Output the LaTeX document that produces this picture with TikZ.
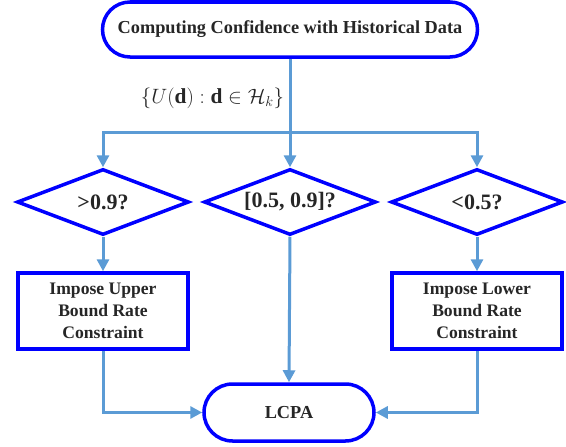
\documentclass[tikz,border=0pt]{standalone}
\usepackage{fontspec}
\setmainfont{Liberation Serif}
\usetikzlibrary{arrows.meta, shapes.geometric, shapes.misc}

\definecolor{edgeblue}{RGB}{0,0,255}
\definecolor{flowblue}{RGB}{91,155,213}

\begin{document}
\begin{tikzpicture}[x=1pt, y=-1pt,
    every node/.style={text=black!85},
    terminal/.style={rounded rectangle, draw=edgeblue, line width=3.5pt, inner sep=0pt,
        font=\fontsize{18.3}{21}\bfseries},
    decision/.style={diamond, aspect=2.6, draw=edgeblue, line width=3.5pt, inner sep=0pt,
        minimum width=172, minimum height=66, font=\fontsize{22}{24}\bfseries},
    process/.style={rectangle, draw=edgeblue, line width=3.5pt, align=center, inner sep=0pt,
        minimum width=170, minimum height=76, font=\fontsize{17.6}{22}\bfseries},
    flow/.style={draw=flowblue, line width=3pt, -{Triangle[width=12pt,length=12pt]}}]
\useasboundingbox (0,0) rectangle (566,447);

% nodes
\node[terminal, minimum width=375, minimum height=55] (start) at (290,29.5) {Computing Confidence with Historical Data};
\node[decision] (high) at (103,202) {>0.9?};
\node[decision] (mid) at (290,202) {[0.5, 0.9]?};
\node[decision] (low) at (477,202) {<0.5?};
\node[process] (upper) at (103,311) {Impose Upper\\Bound Rate\\Constraint};
\node[process] (lower) at (477,311) {Impose Lower\\Bound Rate\\Constraint};
\node[terminal, minimum width=170, minimum height=57] (lcpa) at (289,412.5) {LCPA};
\node[font=\fontsize{21.4}{24}\selectfont] (set) at (212.5,98) {$\{U(\mathbf{d}):\mathbf{d}\in\mathcal{H}_k\}$};

\coordinate (split) at (290,132);

% connectors
\draw[flow] (start.south) -- (mid.north);
\draw[flow] (split) -| (high.north);
\draw[flow] (split) -| (low.north);
\draw[flow] (high.south) -- (upper.north);
\draw[flow] (low.south) -- (lower.north);
\draw[flow] (mid.south) -- (lcpa.north);
\draw[flow] (upper.south) |- (lcpa.west);
\draw[flow] (lower.south) |- (lcpa.east);

\end{tikzpicture}
\end{document}
